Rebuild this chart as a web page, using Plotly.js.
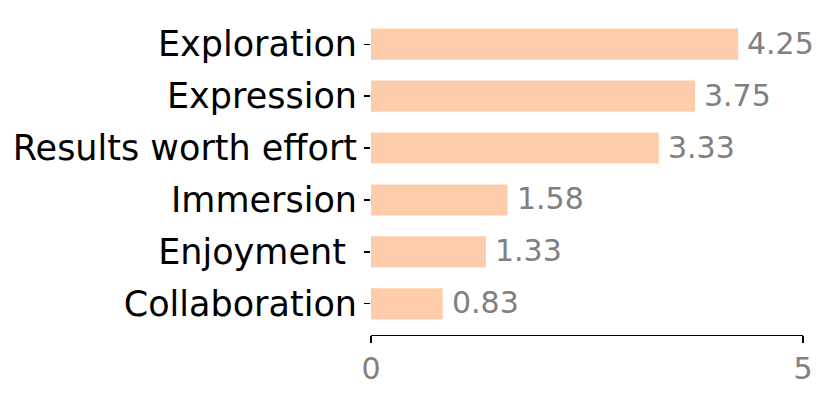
<!DOCTYPE html>
<html>
<head>
<meta charset="utf-8">
<script src="https://cdn.plot.ly/plotly-3.0.1.min.js"></script>
<style>html,body{margin:0;padding:0;background:#fff;}#chart{width:830px;height:393px;}</style>
</head>
<body>
<div id="chart"></div>
<script>
const categories = ["Collaboration", "Enjoyment ", "Immersion", "Results worth effort", "Expression", "Exploration"];
const values = [0.83, 1.33, 1.58, 3.33, 3.75, 4.25];
const valueLabels = ["0.83", "1.33", "1.58", "3.33", "3.75", "4.25"];
const xTickVals = [0, 5];
const xTickText = ["0", "5"];

const FONT = "DejaVu Sans, sans-serif";
const trace = {
  type: "bar",
  orientation: "h",
  x: values,
  y: categories,
  width: 0.6,
  marker: {color: "#fdccaa", line: {width: 0}},
  hoverinfo: "none"
};
const annotations = categories.map((c, i) => ({
  x: values[i], y: c, xref: "x", yref: "y",
  text: valueLabels[i], showarrow: false,
  xanchor: "left", yanchor: "middle", xshift: 7, yshift: 1,
  font: {family: FONT, size: 30, color: "#808080"}
}));
const layout = {
  width: 830, height: 393,
  margin: {l: 371, r: 27, t: 13, b: 58},
  paper_bgcolor: "#fff", plot_bgcolor: "#fff",
  showlegend: false,
  xaxis: {
    range: [0, 5], tickvals: xTickVals, ticktext: xTickText,
    showgrid: false, zeroline: false, showline: true, linecolor: "#000", linewidth: 1.3,
    ticks: "outside", ticklen: 7, tickwidth: 1.3, tickcolor: "#000",
    tickfont: {family: FONT, size: 30, color: "#808080"}
  },
  yaxis: {
    type: "category", categoryorder: "array", categoryarray: categories,
    range: [-0.6, 5.6],
    showgrid: false, zeroline: false, showline: false,
    ticks: "outside", ticklen: 6, tickwidth: 1.3, tickcolor: "#000",
    tickfont: {family: FONT, size: 35, color: "#000"}
  },
  annotations: annotations
};
Plotly.newPlot("chart", [trace], layout, {staticPlot: true, displayModeBar: false});
</script>
</body>
</html>
